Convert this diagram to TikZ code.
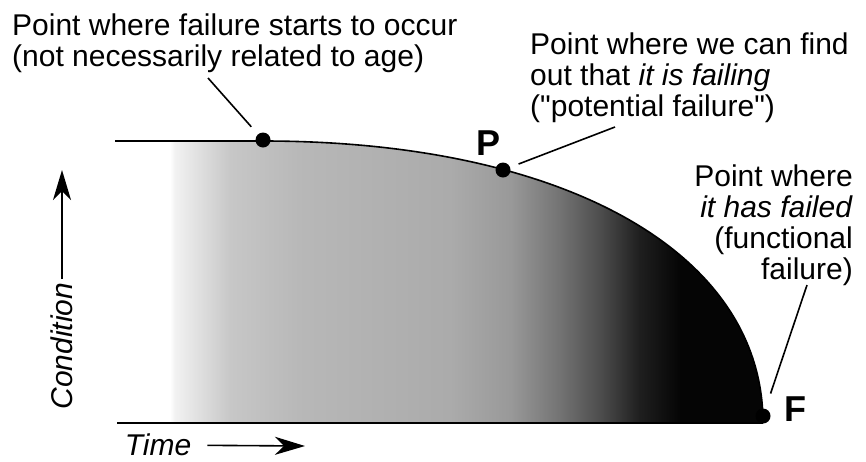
\documentclass[tikz,border=0pt]{standalone}
\usepackage{fontspec}
\setmainfont[Ligatures=TeXOff]{Liberation Sans}
\usetikzlibrary{arrows.meta}
\pgfdeclarehorizontalshading{wear}{100bp}{color(0bp)=(white); color(25bp)=(white); color(25.4bp)=(black!5); color(30.1bp)=(black!22); color(36bp)=(black!28); color(48.6bp)=(black!33); color(53.7bp)=(black!40); color(57.9bp)=(black!55); color(61.3bp)=(black!70); color(64.6bp)=(black!88); color(68bp)=(black!98); color(100bp)=(black!98)}

\begin{document}
\begin{tikzpicture}[x=1pt, y=-1pt, font=\fontsize{30}{31}\selectfont, >={Stealth[length=30pt,width=18pt,inset=9pt]}]
\tikzset{note/.style={inner sep=0pt, align=left}, dot/.style={circle, fill=black, inner sep=0pt, minimum size=15pt}, lead/.style={line width=1.6pt}, letter/.style={font=\fontsize{36}{36}\selectfont\bfseries, inner sep=0pt}, axislabel/.style={font=\fontsize{30}{31}\selectfont\itshape}}
\useasboundingbox (0,0) rectangle (866,461);
\shade[shading=wear] (170,141) -- (263,141) .. controls (560,141) and (763,250) .. (763,423) -- (170,423) -- cycle;
\draw[line width=1.6pt] (115,141) -- (263,141) .. controls (560,141) and (763,250) .. (763,423);
\draw[line width=2.2pt] (117,423) -- (763,423);
\node[dot] (onset) at (263,140) {};
\node[dot] (pdot) at (503,170) {};
\node[dot] (fdot) at (763,416) {};
\node[letter] (plabel) at (488,143) {P};
\node[letter] (flabel) at (795,409) {F};
\node[note, anchor=north west] (onsetnote) at (12,14) {Point where failure starts to occur\\(not necessarily related to age)};
\node[note, anchor=north west] (pnote) at (530,33) {Point where we can find\\out that \textit{it is failing}\\("potential failure")};
\node[note, align=right, anchor=north east] (fnote) at (853,165) {Point where\\\textit{it has failed}\\(functional\\failure)};
\coordinate (onsetend) at (208,78);
\coordinate (pend) at (615,127);
\coordinate (fend) at (807,285);
\draw[lead, shorten >=10pt] (onsetend) -- (onset);
\draw[lead, shorten >=9pt] (pend) -- (pdot);
\draw[lead, shorten >=16pt] (fend) -- (fdot);
\node[axislabel, rotate=90] (cond) at (62,346) {Condition};
\node[axislabel, inner sep=2pt] (time) at (158,445) {Time};
\coordinate (condtip) at (62,170);
\coordinate (timetip) at (305,446);
\draw[->, line width=1.6pt] (cond) -- (condtip);
\draw[->, line width=1.6pt, shorten <=14pt] (time) -- (timetip);
\end{tikzpicture}
\end{document}
